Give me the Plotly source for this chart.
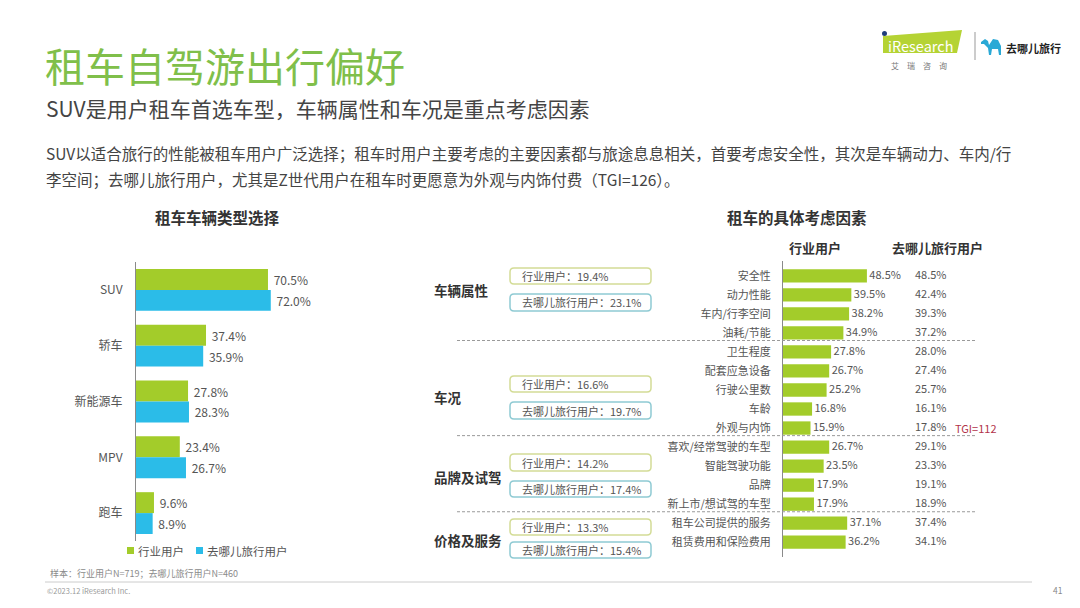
import plotly.graph_objects as go

W, H = 1080, 608
FONT = "Noto Sans CJK SC, Microsoft YaHei, sans-serif"
GREEN = "#a3cc2a"
BLUE = "#2bbce8"
TXT = "#555555"

# ---------------- data ----------------
car_types = ["SUV", "轿车", "新能源车", "MPV", "跑车"]
car_industry = [70.5, 37.4, 27.8, 23.4, 9.6]
car_qunar = [72.0, 35.9, 28.3, 26.7, 8.9]

factors = ["安全性", "动力性能", "车内/行李空间", "油耗/节能",
           "卫生程度", "配套应急设备", "行驶公里数", "车龄", "外观与内饰",
           "喜欢/经常驾驶的车型", "智能驾驶功能", "品牌", "新上市/想试驾的车型",
           "租车公司提供的服务", "租赁费用和保险费用"]
factor_industry = [48.5, 39.5, 38.2, 34.9, 27.8, 26.7, 25.2, 16.8, 15.9,
                   26.7, 23.5, 17.9, 17.9, 37.1, 36.2]
factor_qunar = [48.5, 42.4, 39.3, 37.2, 28.0, 27.4, 25.7, 16.1, 17.8,
                29.1, 23.3, 19.1, 18.9, 37.4, 34.1]

groups = ["车辆属性", "车况", "品牌及试驾", "价格及服务"]
group_industry = [19.4, 16.6, 14.2, 13.3]
group_qunar = [23.1, 19.7, 17.4, 15.4]
group_sizes = [4, 5, 4, 2]
tgi_label = "TGI=112"
tgi_factor = "外观与内饰"

series_names = ["行业用户", "去哪儿旅行用户"]


def px(x):
    return x / W


def py(y):
    return 1 - y / H


fig = go.Figure()

# ---------------- left chart ----------------
fig.add_trace(go.Bar(
    y=car_types, x=car_industry, orientation="h", name=series_names[0],
    marker=dict(color=GREEN, line=dict(width=0)),
    text=[f"\u00a0{v:.1f}%" for v in car_industry], textposition="outside",
    constraintext="none",
    textfont=dict(size=12, color=TXT), cliponaxis=False,
    xaxis="x", yaxis="y"))
fig.add_trace(go.Bar(
    y=car_types, x=car_qunar, orientation="h", name=series_names[1],
    marker=dict(color=BLUE, line=dict(width=0)),
    text=[f"\u00a0{v:.1f}%" for v in car_qunar], textposition="outside",
    constraintext="none",
    textfont=dict(size=12, color=TXT), cliponaxis=False,
    xaxis="x", yaxis="y"))

# ---------------- right chart ----------------
fig.add_trace(go.Bar(
    y=factors, x=factor_industry, orientation="h", showlegend=False,
    marker=dict(color=GREEN, line=dict(width=0)), width=0.7,
    xaxis="x2", yaxis="y2"))
# industry value labels, placed at the end of each bar
fig.add_trace(go.Scatter(
    y=factors, x=factor_industry, mode="text", showlegend=False,
    text=[f"\u00a0{v:.1f}%" for v in factor_industry], textposition="middle right",
    textfont=dict(size=11, color=TXT), cliponaxis=False, hoverinfo="skip",
    xaxis="x2", yaxis="y2"))

QX = 76.3  # column position for Qunar values (data units of x2)
fig.add_trace(go.Scatter(
    y=factors, x=[QX] * len(factors), mode="text", showlegend=False,
    text=[f"{v:.1f}%" for v in factor_qunar], textposition="middle right",
    textfont=dict(size=11, color=TXT), cliponaxis=False, hoverinfo="skip",
    xaxis="x2", yaxis="y2"))

left_scale = 1.872   # px per %
right_scale = 1.73

fig.update_layout(
    width=W, height=H, margin=dict(l=0, r=0, t=0, b=0),
    paper_bgcolor="white", plot_bgcolor="white",
    font=dict(family=FONT, color=TXT),
    barmode="group", bargap=0.25, bargroupgap=0,
    xaxis=dict(domain=[px(136), px(400)], range=[0, 264 / left_scale],
               visible=False, fixedrange=True),
    yaxis=dict(domain=[py(541), py(262)], autorange="reversed",
               showline=True, linecolor="#8a8a8a", linewidth=1,
               showgrid=False, zeroline=False, ticks="",
               ticklabelstandoff=10,
               tickfont=dict(size=12, color=TXT), anchor="x"),
    xaxis2=dict(domain=[px(783), px(1000)], range=[0, 217 / right_scale],
                visible=False, fixedrange=True, anchor="y2"),
    yaxis2=dict(domain=[py(557), py(261)], autorange="reversed",
                showline=True, linecolor="#8a8a8a", linewidth=1,
                showgrid=False, zeroline=False, ticks="",
                ticklabelstandoff=9,
                tickfont=dict(size=11, color=TXT), anchor="x2"),
    showlegend=False,
)

ann = []
shapes = []


def text(x, y, s, size, color=TXT, xanchor="left", bold=False, **kw):
    if bold:
        s = f"<b>{s}</b>"
    ann.append(dict(x=px(x), y=py(y), xref="paper", yref="paper", text=s,
                    showarrow=False, xanchor=xanchor, yanchor="middle",
                    font=dict(size=size, color=color, family=FONT), **kw))


# titles
text(43, 65, "租车自驾游出行偏好", 40, color="#80bf4a")
text(44, 108, "SUV是用户租车首选车型，车辆属性和车况是重点考虑因素", 21, color="#444444")
text(44, 153, "SUV以适合旅行的性能被租车用户广泛选择；租车时用户主要考虑的主要因素都与旅途息息相关，首要考虑安全性，其次是车辆动力、车内/行",
     15.5, color="#444444")
text(44, 179, "李空间；去哪儿旅行用户，尤其是Z世代用户在租车时更愿意为外观与内饰付费（TGI=126）。",
     15.5, color="#444444")

# chart titles
text(217, 217, "租车车辆类型选择", 15.5, color="#333333", xanchor="center", bold=True)
text(797, 217, "租车的具体考虑因素", 15.5, color="#333333", xanchor="center", bold=True)
text(815, 247, series_names[0], 13, color="#333333", xanchor="center", bold=True)
text(937, 247, series_names[1], 13, color="#333333", xanchor="center", bold=True)

# left legend (custom swatches)
for (sx, tx), name, col in zip([(127, 136), (196, 205)], series_names, [GREEN, BLUE]):
    shapes.append(dict(type="rect", xref="paper", yref="paper",
                       x0=px(sx), x1=px(sx + 7), y0=py(547), y1=py(554),
                       fillcolor=col, line=dict(width=0)))
    text(tx, 550.5, name, 11.5, color=TXT)

# TGI note
ti = factors.index(tgi_factor)
ann.append(dict(x=98.5, y=factors[ti], xref="x2", yref="y2", text=tgi_label,
                showarrow=False, xanchor="left", yanchor="middle",
                font=dict(size=11, color="#b2334a", family=FONT)))


# group boxes
def rrect(x0, y0, x1, y1, r=4):
    X0, X1 = px(x0), px(x1)
    Y0, Y1 = py(y0), py(y1)
    rx, ry = r / W, r / H
    return (f"M {X0+rx},{Y0} L {X1-rx},{Y0} Q {X1},{Y0} {X1},{Y0-ry} "
            f"L {X1},{Y1+ry} Q {X1},{Y1} {X1-rx},{Y1} L {X0+rx},{Y1} "
            f"Q {X0},{Y1} {X0},{Y1+ry} L {X0},{Y0-ry} Q {X0},{Y0} {X0+rx},{Y0} Z")


group_label_y = [290, 397, 477, 540]
box_y = [(268, 284, 294, 311), (376, 392, 402, 419),
         (454, 471, 481, 497), (519, 535, 542, 558)]
for g, gi, gq, ly, (a0, a1, b0, b1) in zip(groups, group_industry, group_qunar,
                                            group_label_y, box_y):
    text(432, ly, g, 13.5, color="#333333", bold=True)
    shapes.append(dict(type="path", path=rrect(510, a0, 651, a1), xref="paper",
                       yref="paper", line=dict(color="#d3dc96", width=1.5),
                       fillcolor="rgba(0,0,0,0)"))
    shapes.append(dict(type="path", path=rrect(510, b0, 651, b1), xref="paper",
                       yref="paper", line=dict(color="#8fcad3", width=1.5),
                       fillcolor="rgba(0,0,0,0)"))
    text(520, (a0 + a1) / 2, f"{series_names[0]}：{gi:.1f}%", 11, color=TXT)
    text(520, (b0 + b1) / 2, f"{series_names[1]}：{gq:.1f}%", 11, color=TXT)

# dashed separators between groups
cum = 0
for n in group_sizes[:-1]:
    cum += n
    shapes.append(dict(type="line", xref="paper", yref="y2",
                       x0=px(457), x1=px(975), y0=cum - 0.6, y1=cum - 0.6,
                       line=dict(color="#9a9a9a", width=1, dash="3px,2px")))

# footnote & footer
text(48, 573, "样本：行业用户N=719；去哪儿旅行用户N=460", 9, color="#8a8a8a")
shapes.append(dict(type="line", xref="paper", yref="paper", x0=px(45), x1=px(1032),
                   y0=py(582), y1=py(582), line=dict(color="#cccccc", width=1)))
text(45, 590, "©2023.12 iResearch Inc.", 7.5, color="#9a9a9a")
text(1058, 590, "41", 8.5, color="#8a8a8a", xanchor="center")

# logo: iResearch
shapes.append(dict(type="path", xref="paper", yref="paper",
                   path=f"M {px(883)},{py(36)} L {px(962)},{py(30)} L {px(957)},{py(53)} L {px(883)},{py(53)} Z",
                   fillcolor="#b5d334", line=dict(width=0)))
shapes.append(dict(type="circle", xref="paper", yref="paper",
                   x0=px(882), x1=px(887), y0=py(31), y1=py(36),
                   fillcolor="#1f3d7a", line=dict(width=0)))
text(920, 45, "iResearch", 14.5, color="white", xanchor="center")
text(919, 65, "艾　瑞　咨　询", 8, color="#777777", xanchor="center")
shapes.append(dict(type="line", xref="paper", yref="paper", x0=px(975), x1=px(975),
                   y0=py(32), y1=py(60), line=dict(color="#999999", width=1)))
# camel icon
camel = [(981, 42), (985, 39), (988, 41), (989, 45), (993, 39), (998, 40), (1001, 46),
         (1001, 55), (999, 55), (998, 49), (992, 49), (991, 55), (989, 55), (988, 48),
         (984, 44), (981, 44)]
path = "M " + " L ".join(f"{px(a)},{py(b)}" for a, b in camel) + " Z"
shapes.append(dict(type="path", xref="paper", yref="paper", path=path,
                   fillcolor="#2aa9d6", line=dict(width=0)))
text(1004, 48, "去哪儿旅行", 11, color="#222222", bold=True)

fig.update_layout(annotations=ann, shapes=shapes)
fig.write_html("out.html")
